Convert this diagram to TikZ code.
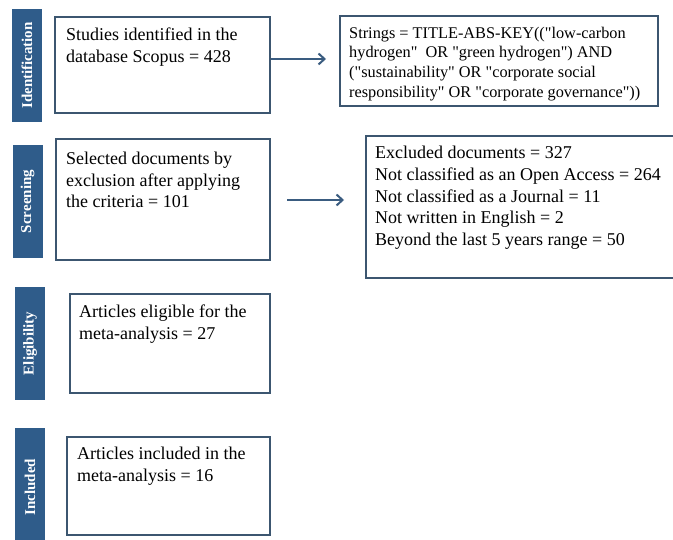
\documentclass[tikz,border=0pt]{standalone}
\usepackage{fontspec}
\setmainfont{Liberation Serif}[Ligatures=TeXOff]
\usetikzlibrary{arrows.meta}
\definecolor{barblue}{HTML}{2F5C8A}
\definecolor{boxline}{HTML}{3C5670}
\definecolor{arrowc}{HTML}{3A5C80}
\begin{document}
\begin{tikzpicture}[x=1pt,y=1pt,
  stagebar/.style={fill=barblue,draw=none,inner sep=0,minimum width=30pt},
  stagelabel/.style={text=white,font=\fontsize{15}{18}\selectfont\bfseries,rotate=90,inner sep=0},
  flowbox/.style={draw=boxline,line width=2.8pt,fill=white,inner sep=0},
  bigtext/.style={font=\fontsize{18}{21.7}\selectfont,align=left,anchor=north west,inner sep=0},
  midtext/.style={font=\fontsize{16.3}{19.6}\selectfont,align=left,anchor=north west,inner sep=0},
  flowarrow/.style={draw=arrowc,line width=2pt,-{Straight Barb[length=6pt,width=11pt,line width=2pt]}}
]
\useasboundingbox (0,0) rectangle (673,-540);
\fill[white] (0,0) rectangle (673,-540);
\begin{scope}
\clip (0,0) rectangle (673,-540);
% stage bars
\node[stagebar,minimum height=113pt] (idbar) at (27,-65.5) {};
\node[stagebar,minimum height=113pt] (scbar) at (27.5,-201.5) {};
\node[stagebar,minimum height=113pt] (elbar) at (30,-343.5) {};
\node[stagebar,minimum height=118pt] (inbar) at (30,-487) {};
\node[stagelabel] (idlab) at (idbar.center) {Identification};
\node[stagelabel] (sclab) at (scbar.center) {Screening};
\node[stagelabel] (ellab) at (elbar.center) {Eligibility};
\node[stagelabel] (inlab) at (inbar.center) {Included};
% boxes
\node[flowbox,minimum width=215pt,minimum height=96pt] (b1) at (162.5,-65) {};
\node[flowbox,minimum width=318pt,minimum height=90pt] (b2) at (499,-61) {};
\node[flowbox,minimum width=214pt,minimum height=121pt] (b3) at (163,-199.5) {};
\node[flowbox,minimum width=314pt,minimum height=142pt] (b4) at (523,-207) {};
\node[flowbox,minimum width=200pt,minimum height=99pt] (b5) at (170,-343.5) {};
\node[flowbox,minimum width=203pt,minimum height=98pt] (b6) at (168.5,-486) {};
% texts
\node[bigtext] (t1) at (66,-27.7) {Studies identified in the\\database Scopus = 428};
\node[midtext] (t2) at (349,-26.8) {Strings = TITLE-ABS-KEY(("low-carbon\\hydrogen"\ \ OR "green hydrogen") AND\\("sustainability" OR "corporate social\\responsibility" OR "corporate governance"))};
\node[bigtext] (t3) at (66,-151.7) {Selected documents by\\exclusion after applying\\the criteria = 101};
\node[bigtext] (t4) at (375,-146.2) {Excluded documents = 327\\Not classified as an Open Access = 264\\Not classified as a Journal = 11\\Not written in English = 2\\Beyond the last 5 years range = 50};
\node[bigtext] (t5) at (79,-304.7) {Articles eligible for the\\meta-analysis = 27};
\node[bigtext] (t6) at (77,-446.7) {Articles included in the\\meta-analysis = 16};
% arrows
\coordinate (a1e) at (326,-59);
\coordinate (a2s) at (287,-200);
\coordinate (a2e) at (344,-200);
\draw[flowarrow] (b1.east |- a1e) -- (a1e);
\draw[flowarrow] (a2s) -- (a2e);
\end{scope}
\end{tikzpicture}
\end{document}
